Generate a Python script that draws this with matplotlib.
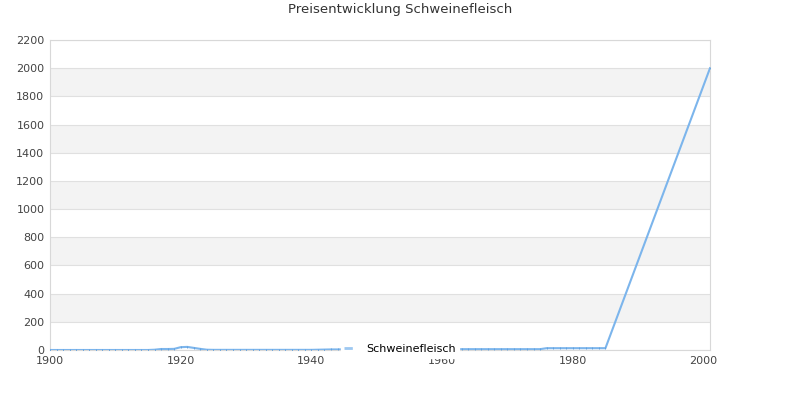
import matplotlib
matplotlib.use('Agg')
import matplotlib.pyplot as plt

# yearly prices 1900-1985, then the last point in 2001
years = list(range(1900, 1986)) + [2001]
prices = ([0] * 16 +                       # 1900-1915
          [2, 7, 7, 8, 20, 22, 15, 8, 2] +  # 1916-1924
          [1] * 16 +                        # 1925-1940
          [2, 3, 4, 4] +                    # 1941-1944
          [5] * 17 +                        # 1945-1961
          [6] * 14 +                        # 1962-1975
          [13] * 10 +                       # 1976-1985
          [2000])                           # 2001

series_name = 'Schweinefleisch'
title = 'Preisentwicklung Schweinefleisch'
yticks = list(range(0, 2201, 200))
xticks = list(range(1900, 2001, 20))

fig = plt.figure(figsize=(8, 4), dpi=100)
ax = fig.add_axes([0.0625, 0.125, 0.825, 0.775])

# alternating bands
for i, lo in enumerate(yticks[:-1]):
    if i % 2 == 1:
        ax.axhspan(lo, lo + 200, color='#f3f3f3', zorder=0, lw=0)
for y in yticks:
    ax.axhline(y, color='#e0e0e0', lw=0.8, zorder=1)

ax.plot(years, prices, color='#7cb5ec', lw=1.5, marker='|', markersize=2,
        markeredgecolor='#5f9fdc', markeredgewidth=0.6, zorder=3)

ax.set_xlim(1900, 2001)
ax.set_ylim(0, 2200)
ax.set_yticks(yticks)
ax.set_xticks(xticks)
ax.tick_params(labelsize=8, colors='#444444', length=0, pad=4)
for s in ax.spines.values():
    s.set_color('#d8d8d8')
    s.set_linewidth(0.8)

fig.text(0.5, 0.975, title, ha='center', va='center', fontsize=9.5, color='#333333')

handle = plt.Line2D([], [], color='#9dc8f1', lw=2, linestyle=(0, (3, 2)))
leg = fig.legend([handle], [series_name], loc='center', bbox_to_anchor=(0.5, 0.127),
                 frameon=True, fontsize=8, handlelength=1.2, borderpad=0.3,
                 handletextpad=0.8)
leg.get_frame().set_facecolor('white')
leg.get_frame().set_edgecolor('white')
leg.get_frame().set_alpha(1)
leg.set_zorder(10)

fig.savefig('out.png', dpi=100)
